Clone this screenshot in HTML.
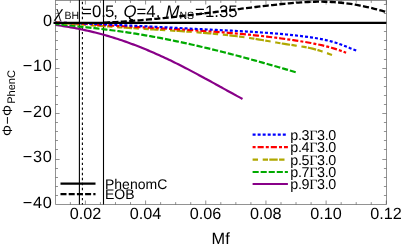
<!DOCTYPE html>
<html><head><meta charset="utf-8"><style>
html,body{margin:0;padding:0;background:#fff;}
svg{display:block;will-change:transform;}
text{font-family:"Liberation Sans",sans-serif;fill:#000;text-rendering:geometricPrecision;}
</style></head><body>
<svg width="402" height="248" viewBox="0 0 402 248">
<rect width="402" height="248" fill="#fff"/>
<!-- frame -->
<g stroke="#484848" stroke-width="0.6" fill="none">
<line x1="55.5" y1="0" x2="55.5" y2="204.5"/>
<line x1="386.5" y1="0" x2="386.5" y2="204.5"/>
<line x1="55.6" y1="204.5" x2="386.3" y2="204.5"/>
<line x1="55.6" y1="0.5" x2="386.3" y2="0.5"/>
</g>
<g stroke="#484848" stroke-width="0.6">
<line x1="70.36" y1="204.5" x2="70.36" y2="202.1"/>
<line x1="70.36" y1="0.5" x2="70.36" y2="2.9"/>
<line x1="85.40" y1="204.5" x2="85.40" y2="200.5"/>
<line x1="85.40" y1="0.5" x2="85.40" y2="4.5"/>
<line x1="100.45" y1="204.5" x2="100.45" y2="202.1"/>
<line x1="100.45" y1="0.5" x2="100.45" y2="2.9"/>
<line x1="115.49" y1="204.5" x2="115.49" y2="202.1"/>
<line x1="115.49" y1="0.5" x2="115.49" y2="2.9"/>
<line x1="130.53" y1="204.5" x2="130.53" y2="202.1"/>
<line x1="130.53" y1="0.5" x2="130.53" y2="2.9"/>
<line x1="145.58" y1="204.5" x2="145.58" y2="200.5"/>
<line x1="145.58" y1="0.5" x2="145.58" y2="4.5"/>
<line x1="160.62" y1="204.5" x2="160.62" y2="202.1"/>
<line x1="160.62" y1="0.5" x2="160.62" y2="2.9"/>
<line x1="175.67" y1="204.5" x2="175.67" y2="202.1"/>
<line x1="175.67" y1="0.5" x2="175.67" y2="2.9"/>
<line x1="190.72" y1="204.5" x2="190.72" y2="202.1"/>
<line x1="190.72" y1="0.5" x2="190.72" y2="2.9"/>
<line x1="205.76" y1="204.5" x2="205.76" y2="200.5"/>
<line x1="205.76" y1="0.5" x2="205.76" y2="4.5"/>
<line x1="220.81" y1="204.5" x2="220.81" y2="202.1"/>
<line x1="220.81" y1="0.5" x2="220.81" y2="2.9"/>
<line x1="235.85" y1="204.5" x2="235.85" y2="202.1"/>
<line x1="235.85" y1="0.5" x2="235.85" y2="2.9"/>
<line x1="250.90" y1="204.5" x2="250.90" y2="202.1"/>
<line x1="250.90" y1="0.5" x2="250.90" y2="2.9"/>
<line x1="265.94" y1="204.5" x2="265.94" y2="200.5"/>
<line x1="265.94" y1="0.5" x2="265.94" y2="4.5"/>
<line x1="280.99" y1="204.5" x2="280.99" y2="202.1"/>
<line x1="280.99" y1="0.5" x2="280.99" y2="2.9"/>
<line x1="296.03" y1="204.5" x2="296.03" y2="202.1"/>
<line x1="296.03" y1="0.5" x2="296.03" y2="2.9"/>
<line x1="311.08" y1="204.5" x2="311.08" y2="202.1"/>
<line x1="311.08" y1="0.5" x2="311.08" y2="2.9"/>
<line x1="326.12" y1="204.5" x2="326.12" y2="200.5"/>
<line x1="326.12" y1="0.5" x2="326.12" y2="4.5"/>
<line x1="341.16" y1="204.5" x2="341.16" y2="202.1"/>
<line x1="341.16" y1="0.5" x2="341.16" y2="2.9"/>
<line x1="356.21" y1="204.5" x2="356.21" y2="202.1"/>
<line x1="356.21" y1="0.5" x2="356.21" y2="2.9"/>
<line x1="371.25" y1="204.5" x2="371.25" y2="202.1"/>
<line x1="371.25" y1="0.5" x2="371.25" y2="2.9"/>
<line x1="386.30" y1="204.5" x2="386.30" y2="200.5"/>
<line x1="386.30" y1="0.5" x2="386.30" y2="4.5"/>
<line x1="55.6" y1="4.50" x2="58.0" y2="4.50"/>
<line x1="386.3" y1="4.50" x2="383.9" y2="4.50"/>
<line x1="55.6" y1="13.50" x2="58.0" y2="13.50"/>
<line x1="386.3" y1="13.50" x2="383.9" y2="13.50"/>
<line x1="55.6" y1="22.50" x2="59.6" y2="22.50"/>
<line x1="386.3" y1="22.50" x2="382.3" y2="22.50"/>
<line x1="55.6" y1="31.50" x2="58.0" y2="31.50"/>
<line x1="386.3" y1="31.50" x2="383.9" y2="31.50"/>
<line x1="55.6" y1="40.50" x2="58.0" y2="40.50"/>
<line x1="386.3" y1="40.50" x2="383.9" y2="40.50"/>
<line x1="55.6" y1="49.50" x2="58.0" y2="49.50"/>
<line x1="386.3" y1="49.50" x2="383.9" y2="49.50"/>
<line x1="55.6" y1="59.50" x2="58.0" y2="59.50"/>
<line x1="386.3" y1="59.50" x2="383.9" y2="59.50"/>
<line x1="55.6" y1="68.50" x2="59.6" y2="68.50"/>
<line x1="386.3" y1="68.50" x2="382.3" y2="68.50"/>
<line x1="55.6" y1="77.50" x2="58.0" y2="77.50"/>
<line x1="386.3" y1="77.50" x2="383.9" y2="77.50"/>
<line x1="55.6" y1="86.50" x2="58.0" y2="86.50"/>
<line x1="386.3" y1="86.50" x2="383.9" y2="86.50"/>
<line x1="55.6" y1="95.50" x2="58.0" y2="95.50"/>
<line x1="386.3" y1="95.50" x2="383.9" y2="95.50"/>
<line x1="55.6" y1="104.50" x2="58.0" y2="104.50"/>
<line x1="386.3" y1="104.50" x2="383.9" y2="104.50"/>
<line x1="55.6" y1="113.50" x2="59.6" y2="113.50"/>
<line x1="386.3" y1="113.50" x2="382.3" y2="113.50"/>
<line x1="55.6" y1="122.50" x2="58.0" y2="122.50"/>
<line x1="386.3" y1="122.50" x2="383.9" y2="122.50"/>
<line x1="55.6" y1="131.50" x2="58.0" y2="131.50"/>
<line x1="386.3" y1="131.50" x2="383.9" y2="131.50"/>
<line x1="55.6" y1="140.50" x2="58.0" y2="140.50"/>
<line x1="386.3" y1="140.50" x2="383.9" y2="140.50"/>
<line x1="55.6" y1="149.50" x2="58.0" y2="149.50"/>
<line x1="386.3" y1="149.50" x2="383.9" y2="149.50"/>
<line x1="55.6" y1="159.50" x2="59.6" y2="159.50"/>
<line x1="386.3" y1="159.50" x2="382.3" y2="159.50"/>
<line x1="55.6" y1="168.50" x2="58.0" y2="168.50"/>
<line x1="386.3" y1="168.50" x2="383.9" y2="168.50"/>
<line x1="55.6" y1="177.50" x2="58.0" y2="177.50"/>
<line x1="386.3" y1="177.50" x2="383.9" y2="177.50"/>
<line x1="55.6" y1="186.50" x2="58.0" y2="186.50"/>
<line x1="386.3" y1="186.50" x2="383.9" y2="186.50"/>
<line x1="55.6" y1="195.50" x2="58.0" y2="195.50"/>
<line x1="386.3" y1="195.50" x2="383.9" y2="195.50"/>
</g>
<!-- title -->
<g font-size="16.8">
<text x="55.3" y="16.6" font-style="italic" style="font-family:'Liberation Serif',serif" font-size="17">χ</text>
<text x="64.6" y="19.4" font-size="10.5">BH</text>
<text x="82.1" y="16.7">=0.</text>
<text x="105" y="16.7">5<tspan dx="-1.2">,</tspan></text>
<text x="123.5" y="16.7"><tspan font-style="italic">Q</tspan>=4,</text>
<text x="165.5" y="16.7" font-style="italic">M</text>
<text x="179.4" y="19.4" font-size="10.5">NS</text>
<text x="195.1" y="16.7">=1.35</text>
</g>
<!-- vertical lines -->
<line x1="79.4" y1="0" x2="79.4" y2="204.5" stroke="#000" stroke-width="1.1"/>
<line x1="82.4" y1="0" x2="82.4" y2="204.5" stroke="#000" stroke-width="1.1" stroke-dasharray="2.4,2.63" stroke-dashoffset="3.27"/>
<line x1="103.5" y1="0" x2="103.5" y2="204.5" stroke="#000" stroke-width="1.1"/>
<!-- curves -->
<g fill="none" stroke-width="2.2">
<path d="M55.6,24.92 L57.5,25.20 L59.4,25.48 L61.3,25.77 L63.2,26.06 L65.0,26.37 L66.9,26.68 L68.8,27.00 L70.7,27.34 L72.6,27.68 L74.5,28.03 L76.4,28.39 L78.3,28.76 L80.1,29.14 L82.0,29.52 L83.9,29.92 L85.8,30.33 L87.7,30.75 L89.6,31.19 L91.5,31.63 L93.4,32.08 L95.2,32.55 L97.1,33.02 L99.0,33.51 L100.9,34.01 L102.8,34.52 L104.7,35.05 L106.6,35.58 L108.5,36.13 L110.3,36.69 L112.2,37.27 L114.1,37.85 L116.0,38.45 L117.9,39.06 L119.8,39.68 L121.7,40.32 L123.6,40.96 L125.5,41.62 L127.3,42.29 L129.2,42.97 L131.1,43.66 L133.0,44.36 L134.9,45.08 L136.8,45.80 L138.7,46.54 L140.6,47.28 L142.4,48.04 L144.3,48.81 L146.2,49.59 L148.1,50.37 L150.0,51.17 L151.9,51.98 L153.8,52.80 L155.7,53.63 L157.5,54.47 L159.4,55.32 L161.3,56.18 L163.2,57.04 L165.1,57.92 L167.0,58.81 L168.9,59.70 L170.8,60.61 L172.6,61.52 L174.5,62.44 L176.4,63.38 L178.3,64.32 L180.2,65.27 L182.1,66.22 L184.0,67.19 L185.9,68.16 L187.8,69.14 L189.6,70.13 L191.5,71.13 L193.4,72.13 L195.3,73.13 L197.2,74.14 L199.1,75.16 L201.0,76.18 L202.9,77.20 L204.7,78.23 L206.6,79.26 L208.5,80.30 L210.4,81.33 L212.3,82.37 L214.2,83.41 L216.1,84.45 L218.0,85.49 L219.8,86.54 L221.7,87.58 L223.6,88.62 L225.5,89.66 L227.4,90.70 L229.3,91.74 L231.2,92.77 L233.1,93.81 L234.9,94.84 L236.8,95.86 L238.7,96.89 L240.6,97.90 L242.5,98.92" stroke="#880088"/>
<path d="M55.6,23.95 L58.0,24.21 L60.5,24.47 L62.9,24.73 L65.3,24.99 L67.7,25.25 L70.2,25.51 L72.6,25.77 L75.0,26.03 L77.4,26.29 L79.9,26.55 L82.3,26.81 L84.7,27.08 L87.1,27.34 L89.6,27.61 L92.0,27.89 L94.4,28.16 L96.8,28.44 L99.3,28.73 L101.7,29.01 L104.1,29.31 L106.5,29.60 L109.0,29.91 L111.4,30.22 L113.8,30.53 L116.2,30.85 L118.7,31.18 L121.1,31.52 L123.5,31.86 L125.9,32.21 L128.4,32.57 L130.8,32.93 L133.2,33.31 L135.6,33.69 L138.1,34.08 L140.5,34.48 L142.9,34.89 L145.3,35.30 L147.8,35.72 L150.2,36.15 L152.6,36.58 L155.0,37.03 L157.5,37.48 L159.9,37.93 L162.3,38.40 L164.7,38.87 L167.2,39.34 L169.6,39.83 L172.0,40.32 L174.4,40.82 L176.9,41.32 L179.3,41.83 L181.7,42.35 L184.1,42.87 L186.6,43.40 L189.0,43.94 L191.4,44.48 L193.8,45.02 L196.3,45.58 L198.7,46.13 L201.1,46.70 L203.5,47.27 L206.0,47.84 L208.4,48.42 L210.8,49.01 L213.2,49.60 L215.7,50.20 L218.1,50.80 L220.5,51.40 L222.9,52.02 L225.4,52.63 L227.8,53.25 L230.2,53.88 L232.6,54.51 L235.1,55.14 L237.5,55.78 L239.9,56.42 L242.3,57.07 L244.8,57.72 L247.2,58.37 L249.6,59.03 L252.0,59.70 L254.5,60.36 L256.9,61.03 L259.3,61.71 L261.7,62.39 L264.2,63.07 L266.6,63.75 L269.0,64.44 L271.4,65.13 L273.9,65.82 L276.3,66.52 L278.7,67.22 L281.1,67.92 L283.6,68.63 L286.0,69.34 L288.4,70.05 L290.8,70.76 L293.3,71.48 L295.7,72.19" stroke="#00aa00" stroke-dasharray="6.1,1.95" stroke-dashoffset="2.22"/>
<path d="M55.6,22.64 L58.4,22.86 L61.2,23.07 L64.0,23.27 L66.8,23.48 L69.6,23.69 L72.4,23.90 L75.1,24.11 L77.9,24.31 L80.7,24.52 L83.5,24.72 L86.3,24.93 L89.1,25.13 L91.9,25.33 L94.7,25.53 L97.5,25.74 L100.3,25.93 L103.1,26.13 L105.9,26.33 L108.6,26.52 L111.4,26.72 L114.2,26.91 L117.0,27.10 L119.8,27.29 L122.6,27.48 L125.4,27.67 L128.2,27.86 L131.0,28.04 L133.8,28.22 L136.6,28.40 L139.4,28.58 L142.1,28.76 L144.9,28.93 L147.7,29.11 L150.5,29.28 L153.3,29.45 L156.1,29.62 L158.9,29.79 L161.7,29.96 L164.5,30.13 L167.3,30.30 L170.1,30.47 L172.9,30.64 L175.7,30.82 L178.4,31.00 L181.2,31.18 L184.0,31.37 L186.8,31.56 L189.6,31.76 L192.4,31.96 L195.2,32.17 L198.0,32.38 L200.8,32.60 L203.6,32.83 L206.4,33.06 L209.2,33.31 L211.9,33.56 L214.7,33.82 L217.5,34.09 L220.3,34.37 L223.1,34.66 L225.9,34.96 L228.7,35.27 L231.5,35.59 L234.3,35.92 L237.1,36.27 L239.9,36.63 L242.7,37.01 L245.5,37.40 L248.2,37.80 L251.0,38.22 L253.8,38.65 L256.6,39.10 L259.4,39.56 L262.2,40.04 L265.0,40.54 L267.8,41.04 L270.6,41.54 L273.4,42.04 L276.2,42.53 L279.0,43.01 L281.7,43.47 L284.5,43.90 L287.3,44.32 L290.1,44.73 L292.9,45.14 L295.7,45.55 L298.5,45.98 L301.3,46.44 L304.1,46.93 L306.9,47.46 L309.7,48.04 L312.5,48.67 L315.2,49.37 L318.0,50.15 L320.8,51.01 L323.6,51.94 L326.4,52.93 L329.2,53.94 L332.0,54.94" stroke="#b0a800" stroke-dasharray="5.4,4.7,5.3,1.3,8.4,1.4" stroke-dashoffset="1.44"/>
<path d="M55.6,22.65 L58.5,22.71 L61.5,22.79 L64.4,22.89 L67.3,23.00 L70.3,23.12 L73.2,23.26 L76.1,23.41 L79.1,23.57 L82.0,23.73 L84.9,23.90 L87.9,24.08 L90.8,24.27 L93.7,24.45 L96.7,24.64 L99.6,24.83 L102.5,25.02 L105.5,25.20 L108.4,25.38 L111.4,25.56 L114.3,25.74 L117.2,25.91 L120.2,26.08 L123.1,26.25 L126.0,26.42 L129.0,26.58 L131.9,26.74 L134.8,26.91 L137.8,27.07 L140.7,27.23 L143.6,27.38 L146.6,27.54 L149.5,27.70 L152.4,27.86 L155.4,28.02 L158.3,28.17 L161.2,28.33 L164.2,28.50 L167.1,28.66 L170.0,28.82 L173.0,28.99 L175.9,29.15 L178.8,29.32 L181.8,29.50 L184.7,29.67 L187.6,29.85 L190.6,30.03 L193.5,30.21 L196.4,30.40 L199.4,30.60 L202.3,30.79 L205.3,30.99 L208.2,31.20 L211.1,31.41 L214.1,31.63 L217.0,31.85 L219.9,32.07 L222.9,32.31 L225.8,32.54 L228.7,32.79 L231.7,33.04 L234.6,33.30 L237.5,33.56 L240.5,33.83 L243.4,34.11 L246.3,34.39 L249.3,34.69 L252.2,34.99 L255.1,35.30 L258.1,35.62 L261.0,35.94 L263.9,36.28 L266.9,36.62 L269.8,36.97 L272.7,37.33 L275.7,37.71 L278.6,38.09 L281.5,38.48 L284.5,38.88 L287.4,39.29 L290.3,39.71 L293.3,40.15 L296.2,40.59 L299.2,41.05 L302.1,41.51 L305.0,41.99 L308.0,42.50 L310.9,43.02 L313.8,43.57 L316.8,44.16 L319.7,44.78 L322.6,45.44 L325.6,46.15 L328.5,46.91 L331.4,47.73 L334.4,48.60 L337.3,49.54 L340.2,50.55 L343.2,51.63 L346.1,52.79" stroke="#ff0000" stroke-dasharray="3,2,6.1,2.1" stroke-dashoffset="5.23"/>
<path d="M55.6,22.66 L58.6,22.73 L61.7,22.80 L64.7,22.88 L67.7,22.97 L70.8,23.06 L73.8,23.15 L76.9,23.25 L79.9,23.35 L82.9,23.46 L86.0,23.57 L89.0,23.69 L92.0,23.80 L95.1,23.92 L98.1,24.05 L101.1,24.18 L104.2,24.31 L107.2,24.44 L110.3,24.57 L113.3,24.71 L116.3,24.85 L119.4,25.00 L122.4,25.14 L125.4,25.29 L128.5,25.44 L131.5,25.59 L134.5,25.74 L137.6,25.89 L140.6,26.05 L143.7,26.20 L146.7,26.36 L149.7,26.52 L152.8,26.68 L155.8,26.84 L158.8,27.00 L161.9,27.15 L164.9,27.31 L167.9,27.47 L171.0,27.63 L174.0,27.79 L177.1,27.95 L180.1,28.11 L183.1,28.27 L186.2,28.42 L189.2,28.58 L192.2,28.74 L195.3,28.89 L198.3,29.04 L201.3,29.19 L204.4,29.34 L207.4,29.49 L210.5,29.64 L213.5,29.78 L216.5,29.93 L219.6,30.08 L222.6,30.23 L225.6,30.38 L228.7,30.54 L231.7,30.69 L234.7,30.85 L237.8,31.02 L240.8,31.18 L243.9,31.36 L246.9,31.53 L249.9,31.72 L253.0,31.91 L256.0,32.10 L259.0,32.30 L262.1,32.51 L265.1,32.73 L268.1,32.96 L271.2,33.19 L274.2,33.44 L277.3,33.69 L280.3,33.95 L283.3,34.23 L286.4,34.51 L289.4,34.81 L292.4,35.12 L295.5,35.44 L298.5,35.78 L301.5,36.12 L304.6,36.49 L307.6,36.88 L310.7,37.30 L313.7,37.75 L316.7,38.25 L319.8,38.79 L322.8,39.39 L325.8,40.06 L328.9,40.79 L331.9,41.60 L334.9,42.49 L338.0,43.46 L341.0,44.54 L344.1,45.70 L347.1,46.92 L350.1,48.16 L353.2,49.39 L356.2,50.56" stroke="#0000ff" stroke-dasharray="3,2.03" stroke-dashoffset="1.65"/>
<line x1="53.5" y1="22.8" x2="386.3" y2="22.8" stroke="#000" stroke-width="2.3"/>
<path d="M104.0,22.66 L106.4,22.55 L108.7,22.43 L111.1,22.31 L113.5,22.17 L115.9,22.04 L118.2,21.89 L120.6,21.74 L123.0,21.58 L125.4,21.42 L127.7,21.25 L130.1,21.07 L132.5,20.89 L134.8,20.71 L137.2,20.51 L139.6,20.32 L142.0,20.11 L144.3,19.90 L146.7,19.69 L149.1,19.47 L151.4,19.25 L153.8,19.02 L156.2,18.79 L158.6,18.55 L160.9,18.31 L163.3,18.07 L165.7,17.82 L168.1,17.57 L170.4,17.31 L172.8,17.05 L175.2,16.79 L177.5,16.53 L179.9,16.26 L182.3,15.99 L184.7,15.72 L187.0,15.44 L189.4,15.16 L191.8,14.88 L194.1,14.60 L196.5,14.31 L198.9,14.03 L201.3,13.74 L203.6,13.45 L206.0,13.16 L208.4,12.87 L210.8,12.57 L213.1,12.28 L215.5,11.99 L217.9,11.69 L220.2,11.39 L222.6,11.10 L225.0,10.80 L227.4,10.50 L229.7,10.21 L232.1,9.91 L234.5,9.62 L236.8,9.32 L239.2,9.03 L241.6,8.73 L244.0,8.44 L246.3,8.15 L248.7,7.86 L251.1,7.57 L253.5,7.28 L255.8,6.99 L258.2,6.71 L260.6,6.43 L262.9,6.14 L265.3,5.87 L267.7,5.59 L270.1,5.32 L272.4,5.05 L274.8,4.78 L277.2,4.52 L279.5,4.26 L281.9,4.01 L284.3,3.77 L286.7,3.54 L289.0,3.31 L291.4,3.10 L293.8,2.90 L296.2,2.71 L298.5,2.53 L300.9,2.37 L303.3,2.22 L305.6,2.09 L308.0,1.98 L310.4,1.88 L312.8,1.80 L315.1,1.75 L317.5,1.71 L319.9,1.70 L322.2,1.71 L324.6,1.74 L327.0,1.80 L329.4,1.89 L331.7,2.00 L334.1,2.14 L336.5,2.31 L338.9,2.51 L341.2,2.74 L343.6,3.00 L346.0,3.29 L348.3,3.61 L350.7,3.95 L353.1,4.33 L355.5,4.73 L357.8,5.15 L360.2,5.61 L362.6,6.08 L364.9,6.58 L367.3,7.10 L369.7,7.64 L372.1,8.20 L374.4,8.79 L376.8,9.39 L379.2,10.00 L381.6,10.64 L383.9,11.29 L386.3,11.96" stroke="#000" stroke-width="2.3" stroke-dasharray="6.1,2.3"/>
</g>
<!-- legend left -->
<line x1="60.5" y1="183.6" x2="95.5" y2="183.6" stroke="#000" stroke-width="2.3"/>
<line x1="60.5" y1="194.2" x2="95.5" y2="194.2" stroke="#000" stroke-width="2.3" stroke-dasharray="6.0,2.2"/>
<text x="105" y="188.9" font-size="14" letter-spacing="0">PhenomC</text>
<text x="105" y="198.9" font-size="14" letter-spacing="0">EOB</text>
<!-- legend right -->
<g stroke-width="2.2">
<line x1="252.6" y1="134.7" x2="286.2" y2="134.7" stroke="#0000ff" stroke-dasharray="3,2.03"/>
<line x1="252.6" y1="147.2" x2="287.9" y2="147.2" stroke="#ff0000" stroke-dasharray="3,2,6.1,2.1"/>
<line x1="252.6" y1="159.6" x2="284.7" y2="159.6" stroke="#b0a800" stroke-dasharray="5.4,4.7,5.3,1.3,8.4,1.4"/>
<line x1="252.6" y1="172" x2="287.9" y2="172" stroke="#00aa00" stroke-dasharray="6.1,1.95"/>
<line x1="252.6" y1="184" x2="287.9" y2="184" stroke="#880088"/>
</g>
<g font-size="14.3" letter-spacing="-0.35">
<text x="290.3" y="139.9">p.3<tspan style="font-family:'Liberation Serif',serif">Γ</tspan>3.0</text>
<text x="290.3" y="152.2">p.4<tspan style="font-family:'Liberation Serif',serif">Γ</tspan>3.0</text>
<text x="290.3" y="164.6">p.5<tspan style="font-family:'Liberation Serif',serif">Γ</tspan>3.0</text>
<text x="290.3" y="176.9">p.7<tspan style="font-family:'Liberation Serif',serif">Γ</tspan>3.0</text>
<text x="290.3" y="189.2">p.9<tspan style="font-family:'Liberation Serif',serif">Γ</tspan>3.0</text>
</g>
<!-- axis labels -->
<g font-size="16.3" letter-spacing="0.8">
<text x="42.9" y="26.3">0</text>
<text x="22.7" y="71.3">−10</text>
<text x="22.7" y="117.2">−20</text>
<text x="22.7" y="162.3">−30</text>
<text x="22.7" y="208.2">−40</text>
</g>
<g font-size="16.2" letter-spacing="0" text-anchor="middle" transform="translate(0.2,0)">
<text x="85.4" y="218.6">0.02</text>
<text x="145.4" y="218.6">0.04</text>
<text x="205.4" y="218.6">0.06</text>
<text x="265.6" y="218.6">0.08</text>
<text x="325.8" y="218.6">0.10</text>
<text x="385.8" y="218.6">0.12</text>
</g>
<text x="211.4" y="244" font-size="16.3" letter-spacing="0.4">Mf</text>
<text transform="translate(11.6,136) rotate(-90)" font-size="13.8" letter-spacing="0.45">Φ−Φ<tspan font-size="11" dy="3.1" dx="0.8" letter-spacing="0">PhenC</tspan></text>
</svg>
</body></html>
